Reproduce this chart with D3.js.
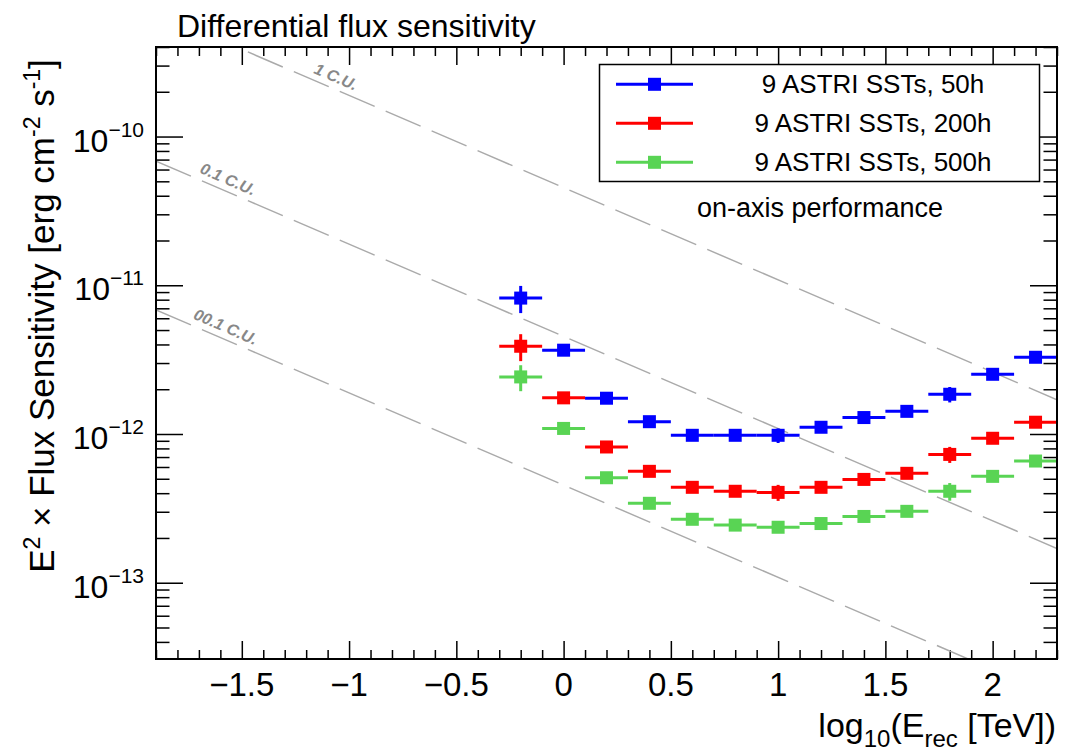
<!DOCTYPE html>
<html>
<head>
<meta charset="utf-8">
<script src="https://cdn.jsdelivr.net/npm/d3@7"></script>
<style>
  body { margin: 0; background: #fff; }
  svg { display: block; font-family: "Liberation Sans", Arial, Helvetica, sans-serif; }
</style>
</head>
<body>
<svg id="chart" width="1070" height="752"></svg>
<script>
// bin centres, log10(E_rec / TeV)
var logE = [-0.2, 0, 0.2, 0.4, 0.6, 0.8, 1.0, 1.2, 1.4, 1.6, 1.8, 2.0, 2.2];
var binHalfWidth = 0.1;

// E^2 x flux sensitivity [erg cm^-2 s^-1]
var sens50h  = [8.2e-12, 3.66e-12, 1.74e-12, 1.21e-12, 9.8e-13, 9.8e-13, 9.8e-13, 1.11e-12, 1.29e-12, 1.42e-12, 1.85e-12, 2.52e-12, 3.28e-12];
var err50h   = [1.7e-12, 1.0e-13, 5e-14, 4e-14, 3e-14, 3e-14, 1.1e-13, 4e-14, 4e-14, 5e-14, 2.2e-13, 8e-14, 1e-13];
var sens200h = [3.89e-12, 1.75e-12, 8.18e-13, 5.61e-13, 4.38e-13, 4.12e-13, 4.05e-13, 4.38e-13, 4.95e-13, 5.44e-13, 7.29e-13, 9.36e-13, 1.2e-12];
var err200h  = [8e-13, 6e-14, 4e-14, 2e-14, 1.5e-14, 1.5e-14, 5e-14, 2e-14, 2e-14, 2e-14, 9e-14, 3e-14, 4e-14];
var sens500h = [2.42e-12, 1.09e-12, 5.08e-13, 3.42e-13, 2.67e-13, 2.44e-13, 2.36e-13, 2.5e-13, 2.79e-13, 3.02e-13, 4.12e-13, 5.19e-13, 6.58e-13];
var err500h  = [4.8e-13, 4e-14, 2.5e-14, 1.5e-14, 1e-14, 1e-14, 2e-14, 1e-14, 1.2e-14, 1.2e-14, 5.6e-14, 2e-14, 2.5e-14];

var seriesNames  = ["9 ASTRI SSTs, 50h", "9 ASTRI SSTs, 200h", "9 ASTRI SSTs, 500h"];
var seriesColors = ["#0000ff", "#ff0000", "#59d454"];

// Crab-unit reference lines: 1 C.U. value at both ends of the x axis
var crabEnds   = [-1.9, 2.3];
var crabValues = [6.83e-10, 1.70e-12];
var cuFactors  = [1, 0.1, 0.01];
var cuLabels   = ["1 C.U.", "0.1 C.U.", "00.1 C.U."];
var cuLabelAt  = [-1.168, -1.70, -1.73];

var xMajor = [-1.5, -1, -0.5, 0, 0.5, 1, 1.5, 2];
var yMajor = [1e-13, 1e-12, 1e-11, 1e-10];

var L = 156, R = 1057, T = 47, B = 659;

var svg = d3.select("#chart");

var x = d3.scaleLinear().domain([-1.9, 2.3]).range([L, R]);
var y = d3.scaleLog().domain([3.07e-14, 4.0e-10]).range([B, T]);

var xMinor = d3.range(-19, 24).map(function(i) { return i / 10; })
  .filter(function(v) { return xMajor.indexOf(Math.round(v * 10) / 10) < 0; });
var yMinor = [];
[-14, -13, -12, -11, -10].forEach(function(p) {
  for (var k = 2; k <= 9; k++) {
    var v = k * Math.pow(10, p);
    if (v >= 3.07e-14 && v <= 4.0e-10) yMinor.push(v);
  }
});

svg.append("clipPath").attr("id", "plotclip")
  .append("rect").attr("x", L).attr("y", T).attr("width", R - L).attr("height", B - T);

// ticks (inward on all four sides)
function ticks(axis, tx, ty) {
  var g = svg.append("g").attr("transform", "translate(" + tx + "," + ty + ")").call(axis);
  g.select(".domain").remove();
  g.selectAll("text").remove();
  g.selectAll("line").attr("stroke", "#000").attr("stroke-width", 1.5);
}
ticks(d3.axisBottom(x).tickValues(xMajor).tickSize(-18), 0, B);
ticks(d3.axisBottom(x).tickValues(xMinor).tickSize(-9), 0, B);
ticks(d3.axisTop(x).tickValues(xMajor).tickSize(-18), 0, T);
ticks(d3.axisTop(x).tickValues(xMinor).tickSize(-9), 0, T);
ticks(d3.axisLeft(y).tickValues(yMajor).tickSize(-27), L, 0);
ticks(d3.axisLeft(y).tickValues(yMinor).tickSize(-13.5), L, 0);
ticks(d3.axisRight(y).tickValues(yMajor).tickSize(-27), R, 0);
ticks(d3.axisRight(y).tickValues(yMinor).tickSize(-13.5), R, 0);

// x tick labels
var fmt = d3.format("~g");
svg.append("g").selectAll("text").data(xMajor).enter().append("text")
  .attr("x", function(d) { return x(d); })
  .attr("y", 696)
  .attr("text-anchor", "middle")
  .attr("font-size", 33)
  .text(function(d) { return fmt(d); });

// y tick labels 10^n
var yl = svg.append("g").selectAll("text").data(yMajor).enter().append("text")
  .attr("x", 144)
  .attr("y", function(d) { return y(d) + 15; })
  .attr("text-anchor", "end")
  .attr("font-size", 32);
yl.append("tspan").text("10");
yl.append("tspan").attr("font-size", 21).attr("dy", -15)
  .text(function(d) { return "\u2212" + Math.round(-Math.log10(d)); });

// Crab-unit dashed lines
var plot = svg.append("g").attr("clip-path", "url(#plotclip)");
var cuLine = d3.line()
  .x(function(d) { return x(d[0]); })
  .y(function(d) { return y(d[1]); });
var angle = Math.atan2(y(crabValues[1]) - y(crabValues[0]), x(crabEnds[1]) - x(crabEnds[0])) * 180 / Math.PI;
var slope = Math.log10(crabValues[1] / crabValues[0]) / (crabEnds[1] - crabEnds[0]);

cuFactors.forEach(function(f, i) {
  plot.append("path")
    .attr("d", cuLine([[crabEnds[0], crabValues[0] * f], [crabEnds[1], crabValues[1] * f]]))
    .attr("fill", "none")
    .attr("stroke", "#aaaaaa")
    .attr("stroke-width", 1.5)
    .attr("stroke-dasharray", "38,12");
  var lx = cuLabelAt[i];
  var lv = crabValues[0] * f * Math.pow(10, slope * (lx - crabEnds[0]));
  svg.append("text")
    .attr("transform", "translate(" + x(lx) + "," + (y(lv) - 7) + ") rotate(" + angle + ")")
    .attr("font-size", 16)
    .attr("font-style", "italic")
    .attr("font-weight", "bold")
    .attr("fill", "#888888")
    .text(cuLabels[i]);
});

// data points with error bars
var allSens = [sens50h, sens200h, sens500h];
var allErr  = [err50h, err200h, err500h];

allSens.forEach(function(vals, s) {
  var pts = logE.map(function(e, i) { return { e: e, v: vals[i], err: allErr[s][i] }; });
  var g = plot.append("g").attr("stroke", seriesColors[s]).attr("fill", seriesColors[s]);
  g.selectAll(".hbar").data(pts).enter().append("line")
    .attr("x1", function(d) { return x(d.e - binHalfWidth); })
    .attr("x2", function(d) { return x(d.e + binHalfWidth); })
    .attr("y1", function(d) { return y(d.v); })
    .attr("y2", function(d) { return y(d.v); })
    .attr("stroke-width", 3);
  g.selectAll(".vbar").data(pts).enter().append("line")
    .attr("x1", function(d) { return x(d.e); })
    .attr("x2", function(d) { return x(d.e); })
    .attr("y1", function(d) { return y(d.v + d.err); })
    .attr("y2", function(d) { return y(d.v - d.err); })
    .attr("stroke-width", 3);
  g.selectAll("rect").data(pts).enter().append("rect")
    .attr("x", function(d) { return x(d.e) - 6.5; })
    .attr("y", function(d) { return y(d.v) - 6.5; })
    .attr("width", 13).attr("height", 13)
    .attr("stroke", "none");
});

// frame
svg.append("rect").attr("x", L).attr("y", T).attr("width", R - L).attr("height", B - T)
  .attr("fill", "none").attr("stroke", "#000").attr("stroke-width", 2);

// legend
var leg = svg.append("g");
leg.append("rect").attr("x", 599.5).attr("y", 64.5).attr("width", 440).attr("height", 117)
  .attr("fill", "#fff").attr("stroke", "#000").attr("stroke-width", 1.5);
var rowY = [84.3, 123.3, 162.3];
seriesNames.forEach(function(name, i) {
  leg.append("line").attr("x1", 616).attr("x2", 693).attr("y1", rowY[i]).attr("y2", rowY[i])
    .attr("stroke", seriesColors[i]).attr("stroke-width", 3);
  leg.append("rect").attr("x", 654.5 - 6.5).attr("y", rowY[i] - 6.5).attr("width", 13).attr("height", 13)
    .attr("fill", seriesColors[i]);
  leg.append("text").attr("x", 873).attr("y", rowY[i] + 9).attr("text-anchor", "middle")
    .attr("font-size", 26).text(name);
});

svg.append("text").attr("x", 820).attr("y", 217).attr("text-anchor", "middle")
  .attr("font-size", 27).text("on-axis performance");

// title
svg.append("text").attr("x", 177).attr("y", 37).attr("font-size", 32)
  .text("Differential flux sensitivity");

// x title
var xt = svg.append("text").attr("x", 1056).attr("y", 737).attr("text-anchor", "end").attr("font-size", 34);
xt.append("tspan").text("log");
xt.append("tspan").attr("font-size", 24).attr("dy", 10).text("10");
xt.append("tspan").attr("dy", -10).text("(E");
xt.append("tspan").attr("font-size", 24).attr("dy", 10).text("rec");
xt.append("tspan").attr("dy", -10).text(" [TeV])");

// y title
var yt = svg.append("text").attr("transform", "translate(54,316) rotate(-90)")
  .attr("text-anchor", "middle").attr("font-size", 35);
yt.append("tspan").text("E");
yt.append("tspan").attr("font-size", 23).attr("dy", -14).text("2");
yt.append("tspan").attr("dy", 14).text(" \u00d7 Flux Sensitivity [erg cm");
yt.append("tspan").attr("font-size", 23).attr("dy", -14).text("-2");
yt.append("tspan").attr("dy", 14).text(" s");
yt.append("tspan").attr("font-size", 23).attr("dy", -14).text("-1");
yt.append("tspan").attr("dy", 14).text("]");
</script>
</body>
</html>
